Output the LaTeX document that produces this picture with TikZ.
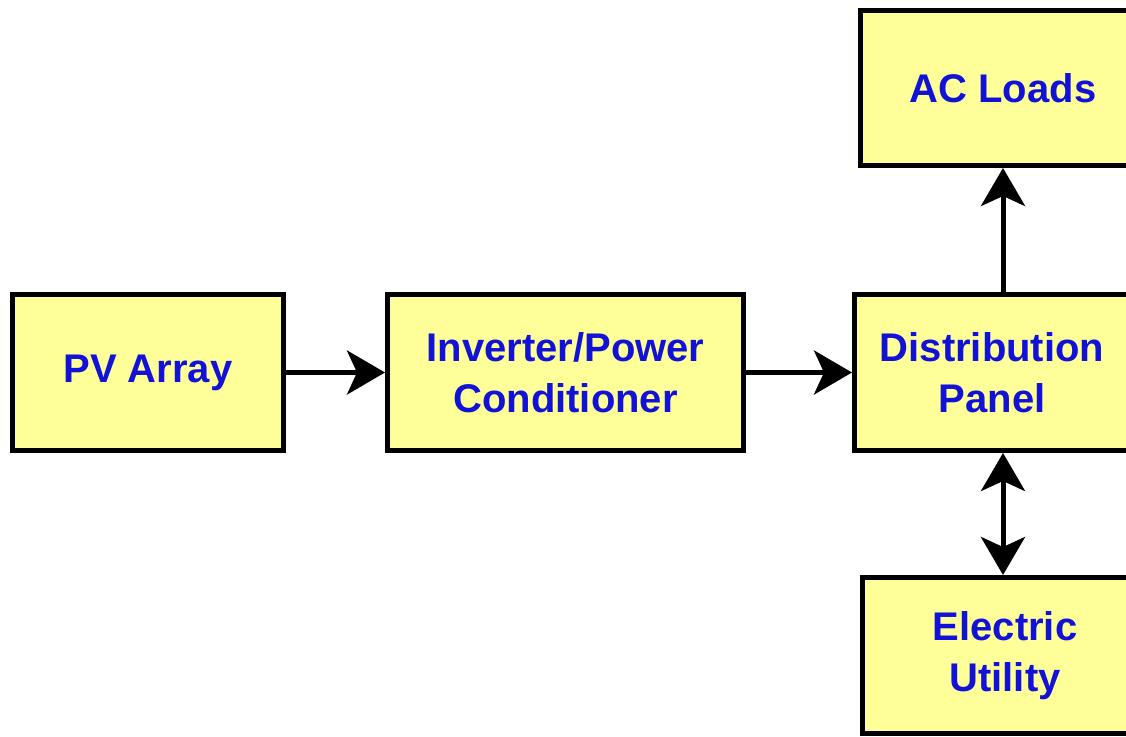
\documentclass[tikz,border=0pt]{standalone}
\usepackage{fontspec}
\setmainfont{Liberation Sans}
\usetikzlibrary{arrows.meta}
\definecolor{boxfill}{RGB}{255,255,153}
\definecolor{txtblue}{RGB}{18,18,215}
\tikzset{
  blk/.style={draw=black, line width=5pt, fill=boxfill, rectangle, inner sep=0pt,
    text=txtblue, align=center, font=\fontsize{40}{51}\selectfont\bfseries},
  conn/.style={line width=5pt, draw=black},
  tip/.style={-{Stealth[length=38pt,width=44pt,inset=10pt]}},
  dtip/.style={{Stealth[length=38pt,width=44pt,inset=10pt]}-{Stealth[length=38pt,width=44pt,inset=10pt]}}
}
\begin{document}
\begin{tikzpicture}[x=1pt,y=-1pt]
\useasboundingbox (0,0) rectangle (1126,736);
\clip (0,0) rectangle (1126,736);
\node[blk, minimum width=271pt, minimum height=156pt] (pv) at (148,372.5) {PV Array};
\node[blk, minimum width=356pt, minimum height=156pt] (inv) at (565.5,372.5) {Inverter/Power\\Conditioner};
\node[blk, minimum width=275pt, minimum height=156pt] (dist) at (992,372.5) {Distribution\\Panel};
\node[blk, minimum width=285pt, minimum height=155pt] (ac) at (1003,88) {AC Loads};
\node[blk, minimum width=285pt, minimum height=156pt] (util) at (1005,655.5) {Electric\\Utility};
\draw[conn, tip] (pv.east) -- (inv.west);
\draw[conn, tip] (inv.east) -- (dist.west);
\draw[conn, tip] (dist.north -| ac.south) -- (ac.south);
\draw[conn, dtip] (dist.south -| ac.south) -- (util.north -| ac.south);
\end{tikzpicture}
\end{document}
